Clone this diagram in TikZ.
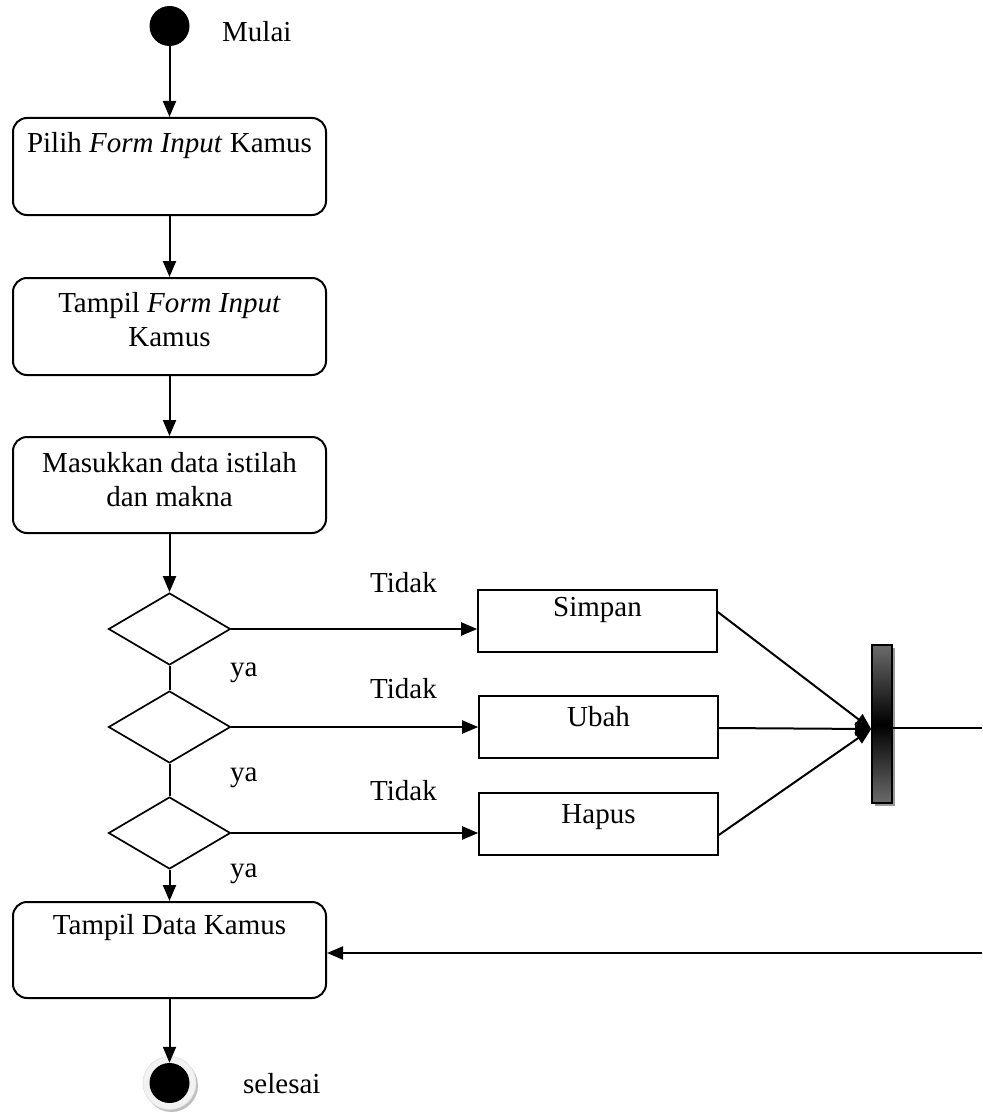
\documentclass[tikz,border=0pt]{standalone}
\usepackage{fontspec}
\setmainfont{Liberation Serif}
\usetikzlibrary{arrows.meta,shapes.geometric,shadows}

\definecolor{barshade}{gray}{0.42}
\definecolor{ringfill}{gray}{0.95}

\begin{document}
\begin{tikzpicture}[x=1pt,y=-1pt,
  every node/.style={font=\fontsize{29}{34}\selectfont},
  conn/.style={line width=2pt},
  arr/.style={conn,-{Triangle[length=16pt,width=13pt]}},
  actbox/.style={draw,line width=2pt,rounded corners=14pt,minimum width=313pt,inner sep=0pt},
  taskbox/.style={draw,line width=1.6pt,minimum width=239pt,minimum height=62pt,inner sep=0pt},
  decision/.style={draw,shape=diamond,line width=1.7pt,minimum width=122pt,minimum height=72pt,inner sep=0pt},
  txt/.style={inner sep=0pt,align=center},
  dot/.style={circle,fill=black,minimum size=40pt,inner sep=0pt},
  ]
\useasboundingbox (0,0) rectangle (982,1113);

% start and end markers
\node[dot] (start) at (169.5,26) {};
\node[txt,anchor=base west] (lmulai) at (222,42) {Mulai};

\node[circle,fill=ringfill,draw=gray!25,line width=.6pt,minimum size=53pt,inner sep=0pt,
      drop shadow={shadow xshift=2pt,shadow yshift=-2.5pt,fill=gray,opacity=.5}] (ring) at (169.5,1083) {};
\node[dot] (stop) at (ring.center) {};
\node[txt,anchor=base west] (lselesai) at (243,1093) {selesai};

% activity boxes
\node[actbox,minimum height=97pt] (b1) at (169.5,166.5) {};
\node[txt,anchor=north] (b1t) at ([yshift=-15pt]b1.north) {Pilih \textit{Form Input} Kamus};

\node[actbox,minimum height=97pt] (b2) at (169.5,326.5) {};
\node[txt,anchor=north] (b2t) at ([yshift=-15pt]b2.north) {Tampil \textit{Form Input}\\Kamus};

\node[actbox,minimum height=96pt] (b3) at (169.5,485) {};
\node[txt,anchor=north] (b3t) at ([yshift=-16pt]b3.north) {Masukkan data istilah\\dan makna};

\node[actbox,minimum height=96pt] (b4) at (169.5,950) {};
\node[txt,anchor=north] (b4t) at ([yshift=-13pt]b4.north) {Tampil Data Kamus};

% decisions
\node[decision] (d1) at (169.5,629) {};
\node[decision] (d2) at (169.5,727) {};
\node[decision] (d3) at (169.5,833) {};

% task boxes
\node[taskbox] (s1) at (597.5,621) {};
\node[txt,anchor=north] (s1t) at ([yshift=-8pt]s1.north) {Simpan};
\node[taskbox] (s2) at (598.5,727) {};
\node[txt,anchor=north] (s2t) at ([yshift=-11pt]s2.north) {Ubah};
\node[taskbox] (s3) at (598.5,824) {};
\node[txt,anchor=north] (s3t) at ([yshift=-12pt]s3.north) {Hapus};

% synchronisation bar
\node[draw,line width=1.6pt,minimum width=20pt,minimum height=158pt,inner sep=0pt,
      top color=barshade,bottom color=barshade,middle color=black,
      drop shadow={shadow xshift=3pt,shadow yshift=-3pt,fill=gray!80,opacity=1}] (bar) at (882,724) {};

% branch labels
\node[txt,anchor=base west] (n1) at (370,592) {Tidak};
\node[txt,anchor=base west] (n2) at (370,698) {Tidak};
\node[txt,anchor=base west] (n3) at (370,800) {Tidak};
\node[txt,anchor=base west] (y1) at (230,676) {ya};
\node[txt,anchor=base west] (y2) at (230,781) {ya};
\node[txt,anchor=base west] (y3) at (230,877) {ya};

% main flow
\draw[arr] (start.south) -- (b1.north);
\draw[arr] (b1.south) -- (b2.north);
\draw[arr] (b2.south) -- (b3.north);
\draw[arr] (b3.south) -- (d1.north);
\draw[conn] (d1.south) -- (d2.north);
\draw[conn] (d2.south) -- (d3.north);
\draw[arr] (d3.south) -- (b4.north);
\draw[arr] (b4.south) -- (stop.north);

% branches to tasks
\draw[arr] (d1.east) -- (d1.east -| s1.west);
\draw[arr] (d2.east) -- (d2.east -| s2.west);
\draw[arr] (d3.east) -- (d3.east -| s3.west);

% tasks join at the bar
\coordinate (join) at ([yshift=-5pt]bar.west);
\draw[arr] ([yshift=9pt]s1.east) -- (join);
\draw[arr] ([yshift=-1pt]s2.east) -- (join);
\draw[arr] ([yshift=-11pt]s3.east) -- (join);

% leaving the bar and returning to the data view
\coordinate (exitR) at (982,728);
\draw[conn] (bar.east |- exitR) -- (exitR);
\coordinate (backR) at (982,953);
\draw[arr] (backR) -- (backR -| b4.east);
\end{tikzpicture}
\end{document}
